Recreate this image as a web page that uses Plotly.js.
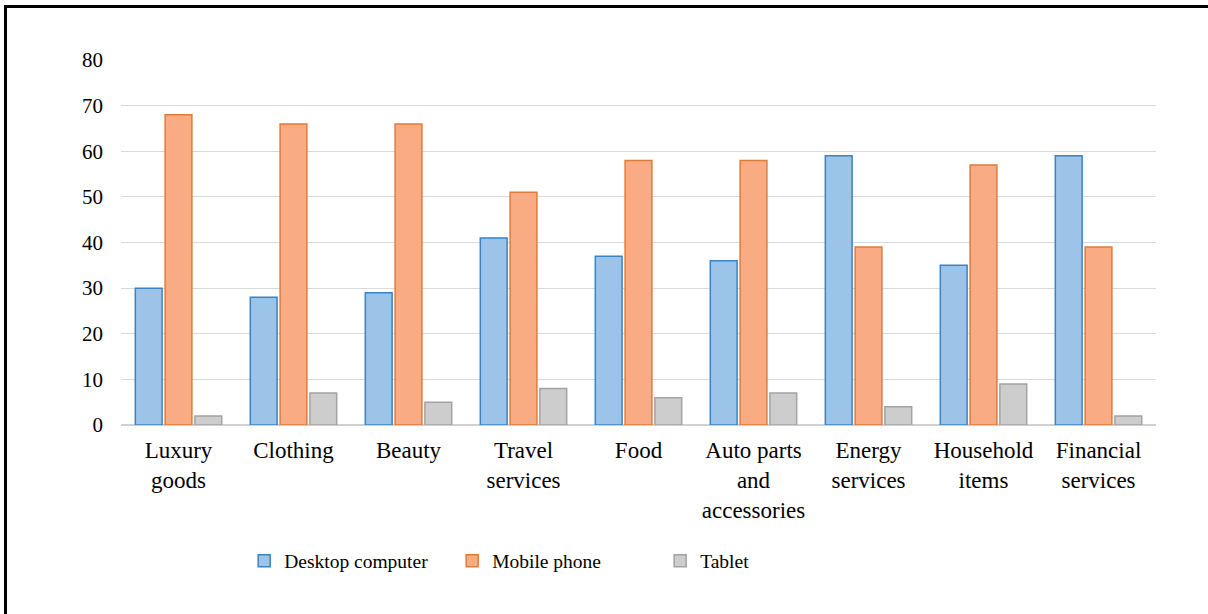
<!DOCTYPE html>
<html>
<head>
<meta charset="utf-8">
<script src="https://cdn.plot.ly/plotly-3.0.1.min.js"></script>
<style>
  html, body { margin: 0; padding: 0; background: #ffffff; }
  #wrap { position: relative; width: 1208px; height: 614px; overflow: hidden; }
  #chart { position: absolute; left: 0; top: 0; width: 1208px; height: 614px; }
  #frame { position: absolute; left: 4px; top: 5px; width: 1220px; height: 640px;
           border-top: 3px solid #000; border-left: 3px solid #000; pointer-events: none; }
</style>
</head>
<body>
<div id="wrap">
  <div id="chart"></div>
  <div id="frame"></div>
</div>
<script>
const categories = [
  "Luxury<br>goods", "Clothing", "Beauty", "Travel<br>services", "Food",
  "Auto parts<br>and<br>accessories", "Energy<br>services", "Household<br>items", "Financial<br>services"
];
const desktop = [30, 28, 29, 41, 37, 36, 59, 35, 59];
const mobile  = [68, 66, 66, 51, 58, 58, 39, 57, 39];
const tablet  = [2, 7, 5, 8, 6, 7, 4, 9, 2];
const seriesNames = ["Desktop computer", "Mobile phone", "Tablet"];
const yTicks = [0, 10, 20, 30, 40, 50, 60, 70, 80];

const serif = "'Liberation Serif', 'Times New Roman', serif";

function barTrace(name, values, fill, line) {
  return {
    type: "bar",
    name: name,
    x: categories,
    y: values,
    marker: { color: fill, line: { color: line, width: 1.5 } },
    hoverinfo: "x+y+name"
  };
}

const data = [
  barTrace(seriesNames[0], desktop, "#9cc3e8", "#3784c6"),
  barTrace(seriesNames[1], mobile, "#f9ab84", "#e27a3a"),
  barTrace(seriesNames[2], tablet, "#cdcdcd", "#a3a3a3")
];

const layout = {
  width: 1208,
  height: 614,
  paper_bgcolor: "#ffffff",
  plot_bgcolor: "#ffffff",
  margin: { l: 121, r: 52, t: 60, b: 189 },
  barmode: "group",
  bargap: 0.223,
  bargroupgap: 0.1,
  font: { family: serif, color: "#000000", size: 20 },
  xaxis: {
    type: "category",
    showgrid: false,
    showline: false,
    zeroline: false,
    ticks: "",
    ticklabelstandoff: 9,
    tickfont: { family: serif, size: 23, color: "#000000" },
    tickangle: 0
  },
  yaxis: {
    range: [0, 80],
    tickvals: yTicks,
    ticktext: yTicks.map(String),
    showgrid: true,
    gridcolor: "#d9d9d9",
    gridwidth: 1.3,
    zeroline: true,
    zerolinecolor: "#d0d0d0",
    zerolinewidth: 1.5,
    showline: false,
    ticks: "",
    ticklabelstandoff: 17,
    tickfont: { family: serif, size: 21, color: "#000000" }
  },
  showlegend: true,
  legend: {
    orientation: "h",
    x: 0.119,
    xanchor: "left",
    y: -0.373,
    yanchor: "middle",
    entrywidth: 163,
    font: { family: serif, size: 19.5, color: "#000000" },
    bgcolor: "rgba(0,0,0,0)",
    itemclick: false,
    itemdoubleclick: false
  }
};

Plotly.newPlot("chart", data, layout, { displayModeBar: false, responsive: false });
</script>
</body>
</html>
